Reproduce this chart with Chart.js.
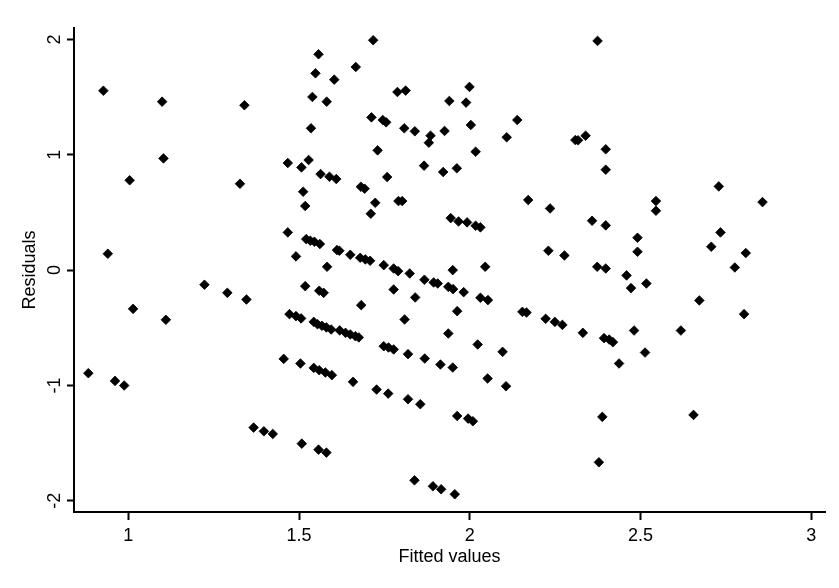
<!DOCTYPE html>
<html>
<head>
<meta charset="utf-8">
<script src="https://cdn.jsdelivr.net/npm/chart.js@4/dist/chart.umd.min.js"></script>
<style>
  html, body { margin: 0; padding: 0; background: #ffffff; }
  #wrap { width: 839px; height: 588px; position: relative; }
</style>
</head>
<body>
<div id="wrap"><canvas id="c" width="839" height="588"></canvas></div>
<script>
// Fitted values (x)
const fittedValues = [
  0.927, 1.099, 1.340, 1.103, 1.004, 1.327, 0.940, 1.223, 1.290, 1.346,
  1.014, 1.110, 0.883, 0.961, 0.988, 1.367, 1.397, 1.423,
  1.717, 1.557, 1.666, 1.548, 1.603, 1.788, 1.812, 1.940, 1.539, 1.581,
  1.712, 1.745, 1.755, 1.535, 1.808, 1.839, 1.885, 1.880, 1.926, 1.730,
  1.467, 1.507, 1.528, 1.563, 1.589, 1.609, 1.866, 1.922, 1.962, 1.758,
  1.681, 1.692, 1.512, 1.518, 1.723, 1.710, 1.791, 1.802, 1.944, 1.967,
  1.467, 1.521, 1.533, 1.545, 1.561, 1.491, 1.611, 1.618, 1.650, 1.679,
  1.694, 1.708, 1.748, 1.582, 1.777, 1.790, 1.950,
  1.824, 1.867, 1.894, 1.906, 1.937, 1.951, 1.518, 1.559, 1.572, 1.777,
  1.840, 1.682, 1.963, 1.809, 1.937, 1.472, 1.491, 1.506,
  1.543, 1.554, 1.567, 1.580, 1.594, 1.619, 1.636, 1.650, 1.665, 1.675,
  1.748, 1.762, 1.777, 1.819, 1.868, 1.914, 1.950, 1.455, 1.504,
  1.543, 1.559, 1.577, 1.596, 1.658, 1.727, 1.761, 1.819, 1.855, 1.963,
  1.508, 1.557, 1.580, 1.838, 1.892, 1.916, 1.956,
  2.374, 1.999, 1.989, 2.003, 2.139, 2.108, 2.309, 2.317, 2.339, 2.398,
  2.398, 2.017, 2.171, 2.235, 1.992, 2.017, 2.031, 2.358, 2.398, 2.491,
  2.491, 2.230, 2.277, 2.045, 2.373, 2.398,
  2.459, 2.472, 1.982, 2.031, 2.053, 2.154, 2.166, 2.222, 2.249, 2.271,
  2.331, 2.393, 2.408, 2.419, 2.481, 2.437, 2.023, 2.096, 2.052, 2.106,
  1.995, 2.009, 2.388, 2.378,
  2.729, 2.545, 2.545, 2.857, 2.734, 2.707, 2.808, 2.776, 2.517, 2.672,
  2.803, 2.618, 2.513, 2.655
];
// Residuals (y)
const residuals = [
  1.556, 1.461, 1.430, 0.969, 0.779, 0.749, 0.142, -0.127, -0.197, -0.255,
  -0.336, -0.431, -0.894, -0.961, -1.001, -1.366, -1.398, -1.421,
  1.994, 1.872, 1.762, 1.707, 1.652, 1.545, 1.557, 1.467, 1.502, 1.461,
  1.325, 1.302, 1.282, 1.230, 1.230, 1.204, 1.166, 1.105, 1.207, 1.039,
  0.929, 0.891, 0.955, 0.833, 0.810, 0.790, 0.906, 0.851, 0.883, 0.807,
  0.723, 0.706, 0.680, 0.556, 0.584, 0.489, 0.599, 0.599, 0.451, 0.422,
  0.327, 0.269, 0.255, 0.246, 0.226, 0.119, 0.174, 0.168, 0.133, 0.107,
  0.093, 0.081, 0.043, 0.029, 0.014, -0.009, 0.000,
  -0.029, -0.084, -0.107, -0.116, -0.145, -0.165, -0.139, -0.179, -0.197, -0.168,
  -0.237, -0.304, -0.356, -0.428, -0.550, -0.382, -0.399, -0.419,
  -0.449, -0.469, -0.483, -0.497, -0.515, -0.523, -0.544, -0.558, -0.573, -0.584,
  -0.660, -0.671, -0.688, -0.729, -0.767, -0.819, -0.845, -0.770, -0.810,
  -0.848, -0.868, -0.888, -0.911, -0.969, -1.036, -1.071, -1.120, -1.163, -1.265,
  -1.505, -1.557, -1.583, -1.823, -1.875, -1.901, -1.944,
  1.988, 1.589, 1.453, 1.259, 1.302, 1.152, 1.128, 1.126, 1.166, 1.048,
  0.871, 1.027, 0.608, 0.535, 0.414, 0.385, 0.371, 0.428, 0.388, 0.281,
  0.159, 0.168, 0.127, 0.029, 0.029, 0.014,
  -0.046, -0.156, -0.191, -0.240, -0.260, -0.362, -0.368, -0.422, -0.449, -0.475,
  -0.544, -0.590, -0.602, -0.625, -0.524, -0.810, -0.645, -0.709, -0.940, -1.007,
  -1.288, -1.311, -1.273, -1.667,
  0.726, 0.599, 0.515, 0.590, 0.327, 0.203, 0.148, 0.023, -0.116, -0.263,
  -0.382, -0.524, -0.715, -1.256
];
const xTickValues = [1, 1.5, 2, 2.5, 3];
const xTickLabels = ['1', '1.5', '2', '2.5', '3'];
const yTickValues = [-2, -1, 0, 1, 2];
const yTickLabels = ['-2', '-1', '0', '1', '2'];
const xTitle = 'Fitted values';
const yTitle = 'Residuals';

const points = fittedValues.map((x, i) => ({ x: x, y: residuals[i] }));
const FONT = "'Liberation Sans', Arial, sans-serif";

new Chart(document.getElementById('c'), {
  type: 'scatter',
  data: {
    datasets: [{
      data: points,
      pointStyle: 'rectRot',
      pointRadius: 4.8,
      pointBorderWidth: 0.8,
      backgroundColor: '#000000',
      borderColor: '#000000'
    }]
  },
  options: {
    responsive: false,
    animation: false,
    devicePixelRatio: 1,
    layout: { padding: { top: 28, right: 14, left: 0, bottom: 0 } },
    plugins: { legend: { display: false }, tooltip: { enabled: false } },
    scales: {
      x: {
        type: 'linear',
        min: 0.841,
        max: 3.04,
        afterBuildTicks: (s) => { s.ticks = xTickValues.map(v => ({ value: v })); },
        afterFit: (s) => { s.height = 76; },
        border: { display: true, color: '#000000', width: 2 },
        grid: { display: true, drawOnChartArea: false, drawTicks: true, tickLength: 8, tickWidth: 2, tickColor: '#000000' },
        ticks: {
          color: '#000000', font: { family: FONT, size: 18 }, padding: 5, maxRotation: 0, minRotation: 0,
          callback: (v) => { const i = xTickValues.indexOf(v); return i >= 0 ? xTickLabels[i] : ''; }
        },
        title: { display: true, text: xTitle, color: '#000000', font: { family: FONT, size: 18 }, padding: { top: 0, bottom: 20 } }
      },
      y: {
        type: 'linear',
        min: -2.098,
        max: 2.10,
        afterBuildTicks: (s) => { s.ticks = yTickValues.map(v => ({ value: v })); },
        afterFit: (s) => { s.width = 74; },
        border: { display: true, color: '#000000', width: 2 },
        grid: { display: true, drawOnChartArea: false, drawTicks: true, tickLength: 7, tickWidth: 2, tickColor: '#000000' },
        ticks: {
          color: '#000000', font: { family: FONT, size: 18 }, padding: 4, minRotation: 90, maxRotation: 90, crossAlign: 'center',
          callback: (v) => { const i = yTickValues.indexOf(v); return i >= 0 ? yTickLabels[i] : ''; }
        },
        title: { display: true, text: yTitle, color: '#000000', font: { family: FONT, size: 18 }, padding: { top: 19, bottom: 0 } }
      }
    }
  }
});
</script>
</body>
</html>
